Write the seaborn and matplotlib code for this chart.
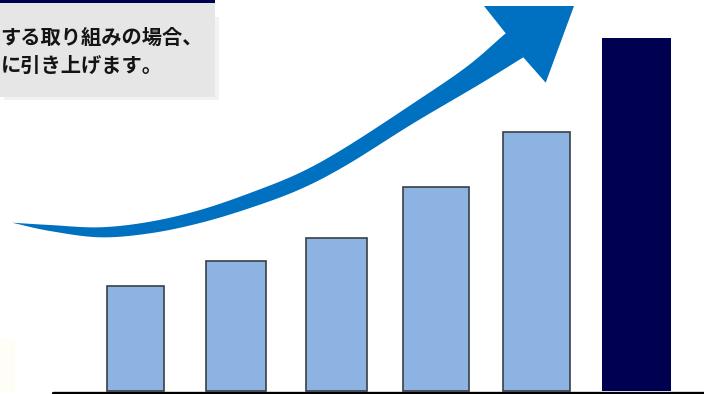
import numpy as np
import pandas as pd
import matplotlib
matplotlib.use("Agg")
import matplotlib.pyplot as plt
import seaborn as sns
from matplotlib.patches import Rectangle, Polygon

# ---- data ----
categories = ["1", "2", "3", "4", "5", "6"]
values = [105, 130, 153, 204, 259, 353]
kinds = ["base", "base", "base", "base", "base", "target"]
text_lines = ["する取り組みの場合、", "に引き上げます。"]

# ---- style ----
W, H = 704, 394
bar_px_widths = [57, 60, 61, 66, 67, 69]
px_per_cat = 100.13

sns.set_theme(style="white")
plt.rcParams['font.family'] = ['Noto Sans CJK JP', 'DejaVu Sans']

fig = plt.figure(figsize=(W / 100, H / 100), dpi=100)
ax = fig.add_axes([53 / W, 0, 1 - 53 / W, 1])
df = pd.DataFrame({"cat": categories, "val": values, "kind": kinds})
sns.barplot(data=df, x="cat", y="val", hue="kind",
            palette={"base": "#8DB3E2", "target": "#000050"},
            width=0.63, dodge=False, legend=False, ax=ax, saturation=1)

bars = sorted(ax.patches, key=lambda p: p.get_x())
for p, wpx, k in zip(bars, bar_px_widths, kinds):
    cx = p.get_x() + p.get_width() / 2
    w = wpx / px_per_cat
    p.set_width(w)
    p.set_x(cx - w / 2)
    if k == "base":
        p.set_edgecolor("#3a3f48")
        p.set_linewidth(1.2)
    else:
        p.set_edgecolor("none")
        p.set_linewidth(0)

ax.set_xlim(-0.828, 5.674)
ax.set_ylim(-3, 391)
ax.axis("off")
ax.axhline(-1.5, color="black", lw=2.4, clip_on=False)

# ---- overlay decorations (pixel coordinates) ----
ov = fig.add_axes([0, 0, 1, 1])
ov.set_xlim(0, W)
ov.set_ylim(H, 0)
ov.axis("off")
ov.patch.set_alpha(0)


def catmull(pts, n=24):
    pts = np.asarray(pts, float)
    P = np.vstack([2 * pts[0] - pts[1], pts, 2 * pts[-1] - pts[-2]])
    out = []
    for i in range(1, len(P) - 2):
        p0, p1, p2, p3 = P[i - 1], P[i], P[i + 1], P[i + 2]
        t = np.linspace(0, 1, n, endpoint=False)[:, None]
        seg = 0.5 * ((2 * p1) + (-p0 + p2) * t + (2 * p0 - 5 * p1 + 4 * p2 - p3) * t ** 2
                     + (-p0 + 3 * p1 - 3 * p2 + p3) * t ** 3)
        out.append(seg)
    out.append(pts[-1:])
    return np.vstack(out)


upper = catmull([(12, 222.7), (50, 225), (100, 227.3), (150, 221.7), (200, 210), (250, 193),
                 (300, 172.7), (346.7, 146.7), (413.3, 103.3), (466.7, 66.7), (505.7, 33.3)])
head = np.array([(484, 6), (574, 6), (545.7, 82.7)])
lower = catmull([(523.3, 57.3), (480, 84), (413.3, 123.3), (346.7, 165), (300, 189.3),
                 (250, 208), (200, 223), (150, 233.3), (100, 237.3), (50, 231), (12, 222.7)])
ov.add_patch(Polygon(np.vstack([upper, head, lower]), closed=True,
                     facecolor="#0070C0", edgecolor="none"))

# text box
ov.add_patch(Rectangle((0, 338), 15, 54, facecolor="#fefef7", edgecolor="none"))
ov.add_patch(Rectangle((4, 17), 215, 83, facecolor="#f2f2f2", edgecolor="none"))
ov.add_patch(Rectangle((0, 2), 215, 95, facecolor="#e6e6e6", edgecolor="none"))
ov.add_patch(Rectangle((0, 0), 215, 2.5, facecolor="#000050", edgecolor="none"))
ov.text(0.5, 37, text_lines[0], fontsize=14.6, fontweight="bold", color="#141414",
        va="center", ha="left")
ov.text(0.5, 65, text_lines[1], fontsize=14.6, fontweight="bold", color="#141414",
        va="center", ha="left")

fig.savefig("out.png", dpi=100)
